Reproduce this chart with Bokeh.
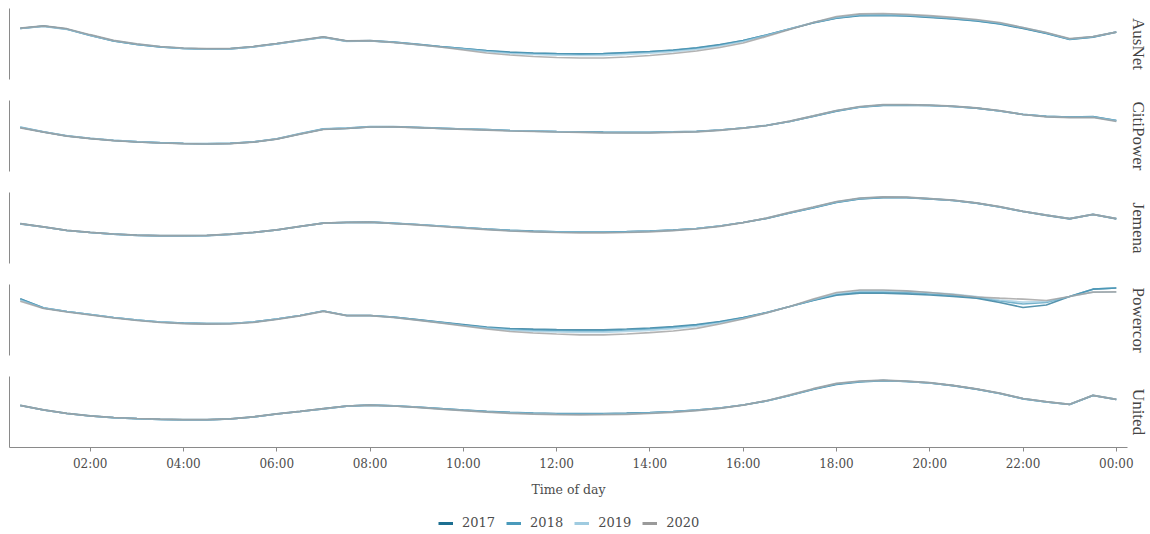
from bokeh.plotting import figure
from bokeh.models import Range1d, FixedTicker, Title, Legend, LegendItem
from bokeh.layouts import column
from bokeh.embed import file_html
from bokeh.resources import INLINE

# ---------------- data ----------------
half_hours = [0.5 * i for i in range(1, 49)]   # 00:30 ... 24:00 (00:00 next day)
years = ["2017", "2018", "2019", "2020"]
networks = ["AusNet", "CitiPower", "Jemena", "Powercor", "United"]
tick_hours = [2, 4, 6, 8, 10, 12, 14, 16, 18, 20, 22, 24]
tick_labels = ["02:00", "04:00", "06:00", "08:00", "10:00", "12:00",
               "14:00", "16:00", "18:00", "20:00", "22:00", "00:00"]

# relative demand index
ausnet_2017 = [51.0, 53.3, 50.3, 44.0, 38.5, 35.0, 32.5, 31.0, 30.3, 30.7, 32.7, 35.7,
               39.0, 42.3, 38.3, 38.7, 37.3, 35.2, 33.0, 31.0, 29.0, 27.3, 26.5, 26.0,
               25.7, 26.0, 27.0, 28.0, 29.5, 31.7, 34.8, 39.0, 44.5, 50.5, 56.5, 61.3,
               63.8, 64.2, 63.5, 62.2, 60.5, 58.5, 55.5, 51.0, 46.0, 40.0, 42.3, 47.3]
ausnet_2018 = [51.2, 53.5, 50.5, 44.3, 38.7, 35.2, 32.7, 31.2, 30.5, 30.8, 32.8, 35.8,
               39.1, 42.4, 38.4, 38.8, 37.4, 35.3, 33.0, 30.8, 28.7, 27.0, 26.1, 25.6,
               25.3, 25.6, 26.6, 27.6, 29.1, 31.3, 34.5, 38.8, 44.4, 50.6, 56.8, 61.7,
               64.2, 64.6, 63.9, 62.6, 60.9, 58.9, 55.9, 51.4, 46.4, 40.4, 42.6, 47.5]
ausnet_2019 = [51.0, 53.2, 50.2, 44.2, 38.8, 35.3, 32.8, 31.2, 30.4, 30.6, 32.6, 35.6,
               38.9, 42.2, 38.2, 38.6, 37.1, 34.8, 32.5, 30.3, 28.0, 26.0, 25.0, 24.3,
               24.0, 24.2, 25.2, 26.3, 27.9, 30.2, 33.5, 38.0, 44.0, 50.5, 57.0, 62.2,
               64.8, 65.2, 64.5, 63.2, 61.5, 59.5, 56.5, 52.0, 46.8, 40.5, 42.8, 47.3]
ausnet_2020 = [51.3, 53.6, 50.8, 44.8, 39.2, 35.6, 33.0, 31.5, 30.8, 31.0, 33.0, 36.0,
               39.3, 42.6, 38.6, 38.9, 37.0, 35.0, 32.5, 29.5, 26.5, 24.5, 23.0, 22.0,
               21.5, 21.5, 22.5, 24.0, 26.0, 28.5, 32.0, 36.5, 43.0, 50.0, 57.0, 63.0,
               65.7, 66.0, 65.2, 63.8, 62.2, 60.0, 57.0, 52.0, 47.0, 41.0, 43.0, 47.3]

citipower_2017 = [44.0, 39.5, 35.5, 33.0, 31.0, 29.7, 28.7, 28.0, 27.7, 28.1, 29.5, 32.5,
                  37.5, 42.3, 43.2, 44.7, 44.7, 44.0, 43.2, 42.5, 41.8, 41.0, 40.5, 40.0,
                  39.7, 39.3, 39.2, 39.2, 39.6, 40.1, 41.5, 43.5, 46.0, 50.0, 55.0, 60.3,
                  64.3, 66.2, 66.4, 66.0, 65.0, 63.3, 60.5, 57.0, 55.2, 54.5, 54.8, 51.0]
citipower_2018 = [44.3, 39.7, 35.7, 33.2, 31.2, 29.8, 28.8, 28.1, 27.8, 28.2, 29.6, 32.7,
                  37.8, 42.6, 43.4, 44.8, 44.8, 44.1, 43.3, 42.5, 41.8, 41.0, 40.4, 39.9,
                  39.6, 39.1, 39.0, 39.0, 39.5, 40.0, 41.5, 43.5, 46.1, 50.2, 55.3, 60.6,
                  64.5, 66.4, 66.6, 66.1, 65.1, 63.4, 60.6, 57.1, 55.1, 54.3, 54.6, 50.8]
citipower_2019 = [44.2, 39.6, 35.6, 33.1, 31.1, 29.8, 28.7, 28.0, 27.7, 28.1, 29.5, 32.6,
                  37.6, 42.4, 43.3, 44.7, 44.7, 44.0, 43.1, 42.4, 41.6, 40.8, 40.3, 39.8,
                  39.4, 38.9, 38.8, 38.9, 39.4, 39.9, 41.4, 43.4, 46.0, 50.2, 55.4, 60.8,
                  64.7, 66.6, 66.7, 66.2, 65.2, 63.5, 60.7, 57.2, 55.0, 54.2, 54.4, 50.6]
citipower_2020 = [43.6, 39.3, 35.3, 32.8, 30.8, 29.5, 28.5, 27.8, 27.5, 27.9, 29.3, 32.3,
                  37.3, 42.0, 43.0, 44.5, 44.6, 43.9, 43.0, 42.2, 41.4, 40.5, 40.0, 39.5,
                  39.1, 38.6, 38.5, 38.6, 39.1, 39.7, 41.2, 43.3, 46.0, 50.3, 55.6, 61.0,
                  65.0, 66.8, 66.9, 66.3, 65.3, 63.6, 60.8, 57.0, 54.7, 53.8, 54.0, 50.0]

jemena_2017 = [39.7, 36.5, 33.0, 31.0, 29.3, 28.2, 27.7, 27.7, 27.9, 29.2, 31.0, 33.5,
               37.0, 40.3, 41.0, 41.3, 40.2, 39.0, 37.5, 36.0, 34.5, 33.2, 32.3, 31.7,
               31.5, 31.5, 31.8, 32.5, 33.5, 35.0, 37.5, 41.0, 45.0, 50.5, 55.5, 61.0,
               64.6, 65.9, 65.8, 64.6, 63.0, 60.3, 56.5, 52.0, 48.2, 44.7, 49.0, 44.7]
jemena_2018 = [39.8, 36.6, 33.1, 31.1, 29.4, 28.3, 27.8, 27.8, 28.0, 29.3, 31.1, 33.6,
               37.1, 40.4, 41.1, 41.4, 40.3, 39.0, 37.5, 36.0, 34.4, 33.1, 32.2, 31.6,
               31.4, 31.4, 31.7, 32.4, 33.4, 35.0, 37.5, 41.0, 45.2, 50.7, 55.8, 61.3,
               64.9, 66.1, 66.0, 64.7, 63.1, 60.4, 56.6, 52.1, 48.3, 44.8, 49.1, 44.8]
jemena_2019 = [39.7, 36.5, 33.0, 31.0, 29.3, 28.2, 27.7, 27.7, 27.9, 29.2, 31.0, 33.5,
               37.0, 40.3, 41.0, 41.3, 40.1, 38.9, 37.3, 35.8, 34.2, 32.9, 32.0, 31.4,
               31.1, 31.1, 31.4, 32.1, 33.2, 34.8, 37.4, 41.0, 45.3, 50.9, 56.1, 61.7,
               65.2, 66.4, 66.2, 64.8, 63.2, 60.5, 56.7, 52.1, 48.3, 44.8, 49.2, 44.8]
jemena_2020 = [39.9, 36.6, 33.2, 31.2, 29.5, 28.4, 27.9, 27.9, 28.1, 29.3, 31.1, 33.6,
               37.1, 40.4, 41.1, 41.4, 40.0, 38.7, 37.0, 35.4, 33.8, 32.5, 31.6, 31.0,
               30.7, 30.7, 31.0, 31.7, 32.8, 34.5, 37.2, 40.9, 45.4, 51.1, 56.5, 62.0,
               65.5, 66.6, 66.3, 64.9, 63.3, 60.6, 56.8, 52.2, 48.4, 44.9, 49.2, 44.8]

powercor_2017 = [56.7, 47.5, 44.0, 41.0, 38.0, 35.5, 33.5, 32.3, 31.8, 32.0, 33.5, 36.5,
                 40.0, 44.5, 40.0, 40.0, 38.5, 36.0, 33.5, 31.0, 28.5, 27.0, 26.3, 25.8,
                 25.7, 25.7, 26.5, 27.5, 29.0, 31.0, 34.0, 38.0, 43.0, 49.0, 55.0, 60.3,
                 62.3, 62.3, 61.7, 60.5, 59.0, 57.3, 53.0, 48.0, 50.5, 59.0, 66.3, 67.5]
powercor_2018 = [56.5, 47.6, 44.0, 41.0, 38.0, 35.5, 33.5, 32.3, 31.8, 32.0, 33.5, 36.5,
                 40.0, 44.5, 40.0, 40.0, 38.3, 35.8, 33.2, 30.5, 27.8, 26.2, 25.4, 24.9,
                 24.7, 24.7, 25.5, 26.6, 28.2, 30.3, 33.5, 37.6, 42.8, 49.0, 55.3, 61.0,
                 63.3, 63.4, 62.8, 61.5, 59.8, 57.8, 54.5, 51.5, 53.0, 59.0, 66.3, 67.5]
powercor_2019 = [55.5, 47.3, 43.8, 40.8, 37.8, 35.3, 33.3, 32.1, 31.6, 31.8, 33.3, 36.3,
                 39.8, 44.3, 39.9, 39.9, 38.2, 35.5, 32.8, 30.0, 27.3, 25.3, 24.2, 23.5,
                 23.2, 23.2, 24.0, 25.2, 26.8, 29.0, 32.5, 37.0, 42.6, 49.0, 55.8, 62.0,
                 64.8, 65.0, 64.4, 63.0, 61.3, 58.8, 55.5, 53.3, 54.0, 59.0, 63.3, 63.5]
powercor_2020 = [54.3, 47.0, 43.5, 40.5, 37.5, 35.0, 33.0, 31.8, 31.3, 31.5, 33.0, 36.0,
                 39.6, 44.1, 39.8, 39.8, 38.0, 35.3, 32.5, 29.5, 26.5, 24.0, 22.5, 21.5,
                 20.7, 20.7, 21.5, 22.8, 24.5, 27.2, 31.5, 36.5, 42.5, 49.0, 56.5, 63.0,
                 65.5, 65.5, 64.7, 63.0, 61.0, 58.5, 57.3, 56.3, 55.0, 59.0, 63.3, 63.7]

united_2017 = [42.0, 37.5, 34.0, 31.5, 29.8, 28.8, 28.1, 27.7, 27.7, 28.5, 30.5, 33.5,
               36.0, 38.7, 41.3, 42.3, 41.7, 40.5, 39.0, 37.5, 36.2, 35.2, 34.5, 34.0,
               33.8, 34.0, 34.3, 35.0, 36.0, 37.5, 39.5, 42.5, 46.5, 52.0, 58.0, 63.2,
               65.7, 66.8, 66.0, 64.5, 61.8, 58.3, 54.0, 48.7, 45.5, 43.0, 52.0, 48.0]
united_2018 = [42.1, 37.6, 34.1, 31.6, 29.9, 28.9, 28.2, 27.8, 27.8, 28.6, 30.6, 33.6,
               36.1, 38.8, 41.4, 42.4, 41.7, 40.4, 38.9, 37.3, 36.0, 34.9, 34.2, 33.7,
               33.5, 33.6, 34.0, 34.7, 35.8, 37.3, 39.4, 42.5, 46.6, 52.2, 58.3, 63.5,
               66.0, 67.0, 66.1, 64.6, 61.9, 58.4, 54.1, 48.8, 45.6, 43.1, 52.1, 48.1]
united_2019 = [42.0, 37.5, 34.0, 31.5, 29.8, 28.8, 28.1, 27.7, 27.7, 28.5, 30.5, 33.5,
               36.0, 38.7, 41.3, 42.3, 41.6, 40.3, 38.7, 37.1, 35.7, 34.6, 33.9, 33.4,
               33.2, 33.3, 33.7, 34.5, 35.6, 37.2, 39.3, 42.5, 46.7, 52.4, 58.5, 63.8,
               66.2, 67.1, 66.2, 64.7, 62.0, 58.5, 54.2, 48.9, 45.7, 43.1, 52.2, 48.1]
united_2020 = [42.2, 37.7, 34.2, 31.7, 30.0, 29.0, 28.3, 27.9, 27.9, 28.7, 30.7, 33.7,
               36.2, 38.9, 41.5, 42.4, 41.5, 40.1, 38.4, 36.8, 35.3, 34.1, 33.4, 32.9,
               32.7, 32.8, 33.2, 34.0, 35.2, 36.9, 39.1, 42.4, 46.8, 52.6, 58.8, 64.1,
               66.5, 67.3, 66.4, 64.8, 62.1, 58.6, 54.3, 49.0, 45.8, 43.2, 52.2, 48.2]

series = {
    "AusNet": [ausnet_2017, ausnet_2018, ausnet_2019, ausnet_2020],
    "CitiPower": [citipower_2017, citipower_2018, citipower_2019, citipower_2020],
    "Jemena": [jemena_2017, jemena_2018, jemena_2019, jemena_2020],
    "Powercor": [powercor_2017, powercor_2018, powercor_2019, powercor_2020],
    "United": [united_2017, united_2018, united_2019, united_2020],
}

# ---------------- style ----------------
colors = ["#1d6f91", "#4a9abb", "#9fcbe0", "#9a9a9a"]
axis_grey = "#8a8a8a"
text_grey = "#4d4d4d"
serif = "DejaVu Serif"

x_range = Range1d(0.27, 24.24)
figs = []
for i, net in enumerate(networks):
    first = i == 0
    last = i == len(networks) - 1
    p = figure(frame_width=1118, frame_height=71,
               x_range=x_range, y_range=Range1d(0, 71),
               output_backend="svg", toolbar_location=None,
               x_axis_location="below" if last else None,
               min_border_left=9, min_border_right=0,
               min_border_top=8 if first else 0,
               min_border_bottom=50 if last else 21)
    p.outline_line_color = None
    p.background_fill_color = "white"
    p.border_fill_color = "white"
    p.xgrid.grid_line_color = None
    p.ygrid.grid_line_color = None

    yax = p.yaxis[0]
    yax.ticker = FixedTicker(ticks=[])
    yax.major_tick_out = 0
    yax.major_tick_in = 0
    yax.minor_tick_out = 0
    yax.minor_tick_in = 0
    yax.major_label_standoff = 0
    yax.axis_line_color = axis_grey
    yax.axis_line_width = 1

    for yr, col, vals in zip(years, colors, series[net]):
        p.line(half_hours, vals, line_color=col, line_width=1.7, line_alpha=0.75)

    p.add_layout(Title(text=net, align="center", text_font="Liberation Serif",
                       text_font_size="17px", text_font_style="normal",
                       text_color="#444444", standoff=2), "right")

    if last:
        xax = p.xaxis[0]
        xax.ticker = FixedTicker(ticks=tick_hours)
        xax.major_label_overrides = {h: lab for h, lab in zip(tick_hours, tick_labels)}
        xax.minor_tick_line_color = None
        xax.major_tick_in = 0
        xax.major_tick_out = 4
        xax.major_tick_line_color = axis_grey
        xax.axis_line_color = axis_grey
        xax.major_label_text_font = serif
        xax.major_label_text_font_size = "12px"
        xax.major_label_text_color = text_grey
        xax.major_label_standoff = 5
        xax.axis_label = "Time of day"
        xax.axis_label_text_font = serif
        xax.axis_label_text_font_size = "12.5px"
        xax.axis_label_text_font_style = "normal"
        xax.axis_label_text_color = text_grey
        xax.axis_label_standoff = 8
    figs.append(p)

# ---- legend strip (legend keys only) ----
lg = figure(frame_width=1118, frame_height=36, x_range=Range1d(0, 1), y_range=Range1d(0, 1),
            output_backend="svg", toolbar_location=None,
            x_axis_location=None, y_axis_location=None,
            min_border_left=9, min_border_right=0, min_border_top=0, min_border_bottom=0)
lg.outline_line_color = None
lg.xgrid.grid_line_color = None
lg.ygrid.grid_line_color = None
# single-vertex lines draw nothing in the frame; they only supply the legend keys
keys = [lg.line(x=[0.5], y=[0.5], line_color=col, line_width=3) for col in colors]
legend = Legend(items=[LegendItem(label=yr, renderers=[k]) for yr, k in zip(years, keys)],
                orientation="horizontal", location=(429, 5),
                border_line_color=None, background_fill_alpha=0,
                glyph_width=15, glyph_height=14, label_height=14,
                label_standoff=9, spacing=11, padding=0, margin=0,
                label_text_font=serif, label_text_font_size="13px",
                label_text_color=text_grey)
lg.add_layout(legend)
figs.append(lg)

layout = column(*figs, spacing=0)
open("out.html", "w").write(file_html(layout, INLINE))
